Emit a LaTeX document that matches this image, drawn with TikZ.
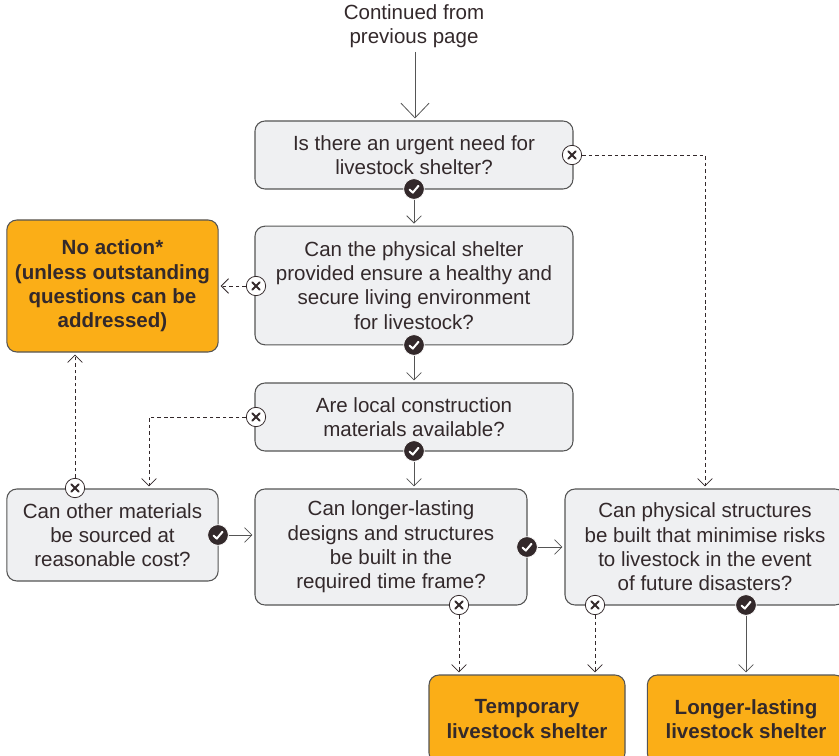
\documentclass[tikz,border=0pt]{standalone}
\usepackage{fontspec}
\setmainfont{Liberation Sans}
\usetikzlibrary{arrows.meta,calc}
\definecolor{ink}{HTML}{33292B}
\definecolor{boxfill}{HTML}{EFF0F2}
\definecolor{boxedge}{HTML}{555555}
\definecolor{amber}{HTML}{FBAE17}
\tikzset{
  x=0.75pt,y=-0.75pt,
  txt/.style={text=ink,align=center,font=\fontsize{15.4}{18.2}\selectfont,inner sep=0pt},
  qbox/.style={txt,draw=boxedge,line width=0.8pt,fill=boxfill,rounded corners=7.5pt},
  abox/.style={txt,draw=boxedge,line width=0.8pt,fill=amber,rounded corners=7.5pt,font=\fontsize{15.4}{18.2}\selectfont\bfseries},
  vtip/.style={-{Straight Barb[length=5.5pt,width=11pt,line width=0.6pt]}},
  yesline/.style={draw=boxedge,line width=0.7pt,vtip},
  noline/.style={draw=ink,line width=0.6pt,dash pattern=on 2.7pt off 2.2pt,vtip},
  ok/.style={circle,fill=ink,draw=white,line width=0.5pt,minimum size=15.5pt,inner sep=0pt},
  nope/.style={circle,fill=white,draw=ink,line width=0.6pt,minimum size=14.5pt,inner sep=0pt},
}
\newcommand{\tickmark}[1]{\draw[white,line width=1.5pt,line cap=round,line join=round] ($(#1)+(-4.5,0.5)$)--($(#1)+(-1.2,3.6)$)--($(#1)+(4.5,-3.2)$);}
\newcommand{\crossmark}[1]{\draw[ink,line width=1.5pt,line cap=round] ($(#1)+(-3.6,-3.6)$)--($(#1)+(3.6,3.6)$) ($(#1)+(-3.6,3.6)$)--($(#1)+(3.6,-3.6)$);}
\begin{document}
\begin{tikzpicture}
\useasboundingbox (0,0) rectangle (839,756);
\clip (0,0) rectangle (839,756);
\node[txt] (start) at (414,26) {Continued from\\previous page};
\node[qbox,minimum width=238.5pt,minimum height=51pt] (q1) at (414,155) {Is there an urgent need for\\livestock shelter?};
\node[qbox,minimum width=238.5pt,minimum height=89pt] (q2) at (414,285.5) {Can the physical shelter\\provided ensure a healthy and\\secure living environment\\for livestock?};
\node[qbox,minimum width=238.5pt,minimum height=51pt] (q3) at (414,417) {Are local construction\\materials available?};
\node[qbox,minimum width=158.5pt,minimum height=69pt] (q4) at (112.5,535) {Can other materials\\be sourced at\\reasonable cost?};
\node[qbox,minimum width=204pt,minimum height=87pt] (q5) at (391,547) {Can longer-lasting\\designs and structures\\be built in the\\required time frame?};
\node[qbox,minimum width=210pt,minimum height=87pt] (q6) at (705,547) {Can physical structures\\be built that minimise risks\\to livestock in the event\\of future disasters?};
\node[abox,minimum width=158.5pt,minimum height=99pt] (none) at (112.5,286) {No action*\\(unless outstanding\\questions can be\\addressed)};
\node[abox,minimum width=147pt,minimum height=66pt] (temp) at (527,719) {Temporary\\livestock shelter};
\node[abox,minimum width=148pt,minimum height=66pt] (long) at (746,719) {Longer-lasting\\livestock shelter};
% badges
\node[nope] (x1) at (572,155) {};
\node[nope] (x2) at (256,286) {};
\node[nope] (x3) at (256,417) {};
\node[nope] (x4) at (75,488) {};
\node[nope] (x5) at (459,605) {};
\node[nope] (x6) at (595,605) {};
\node[ok] (c1) at (414,189) {};
\node[ok] (c2) at (414,345) {};
\node[ok] (c3) at (414,451) {};
\node[ok] (c4) at (218,535) {};
\node[ok] (c5) at (527,547) {};
\node[ok] (c6) at (746,605) {};
\crossmark{x1}\crossmark{x2}\crossmark{x3}\crossmark{x4}\crossmark{x5}\crossmark{x6}
\tickmark{c1}\tickmark{c2}\tickmark{c3}\tickmark{c4}\tickmark{c5}\tickmark{c6}
% connectors
\draw[draw=boxedge,line width=0.7pt,-{Straight Barb[length=11pt,width=21pt,line width=0.6pt]},shorten >=1.5pt] (start) ++(1,0) ++(0,26) -- (q1.north -| 415,0);
\draw[yesline,shorten >=1.5pt] (c1) -- (q2);
\draw[yesline,shorten >=1.5pt] (c2) -- (q3);
\draw[yesline,shorten >=1.5pt] (c3) -- (q5.north -| c3);
\draw[yesline,shorten >=1.5pt] (c4) -- (q5.west |- c4);
\draw[yesline,shorten >=1.5pt] (c5) -- (q6.west |- c5);
\draw[yesline,shorten >=1.5pt] (c6) -- (long);
\draw[noline,shorten >=1.5pt] (x1) -| (q6.north);
\draw[noline,shorten >=1.5pt] (x2) -- (none.east |- x2);
\draw[noline,shorten >=1.5pt] (x3) -| (q4.north -| 149,0);
\draw[noline,shorten >=1.5pt] (x4) -- (none.south -| x4);
\draw[noline,shorten >=1.5pt] (x5) -- (temp.north -| x5);
\draw[noline,shorten >=1.5pt] (x6) -- (temp.north -| x6);
\end{tikzpicture}
\end{document}
